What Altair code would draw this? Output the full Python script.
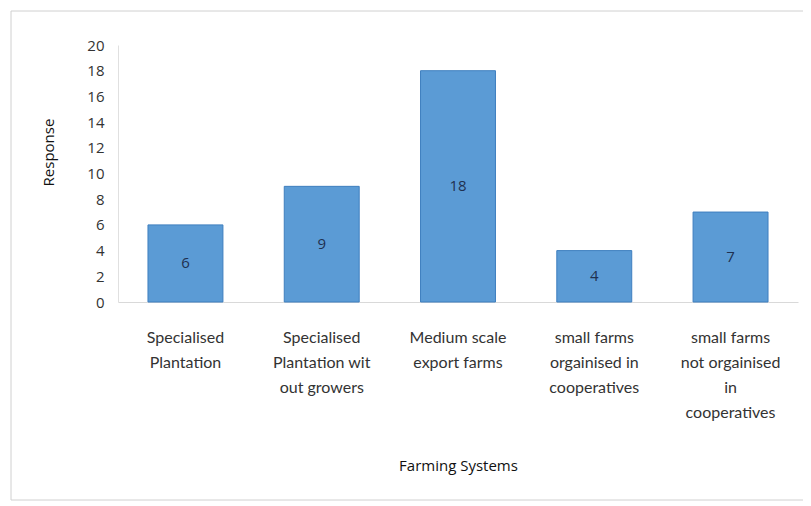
import altair as alt
import pandas as pd

categories = [
    "Specialised|Plantation",
    "Specialised|Plantation wit|out growers",
    "Medium scale|export farms",
    "small farms|orgainised in|cooperatives",
    "small farms|not orgainised|in|cooperatives",
]
responses = [6, 9, 18, 4, 7]
y_ticks = list(range(0, 21, 2))

df = pd.DataFrame({"system": categories, "response": responses})

x_enc = alt.X(
    "system:N",
    sort=categories,
    title="Farming Systems",
    scale=alt.Scale(paddingInner=0.45, paddingOuter=0.22),
    axis=alt.Axis(
        labelAngle=0,
        labelExpr="split(datum.label, '|')",
        labelFont="Lato",
        labelFontSize=16,
        labelColor="#333333",
        labelLineHeight=25,
        labelPadding=27,
        ticks=False,
        domainColor="#d9d9d9",
        titleFont="Open Sans",
        titleFontSize=15,
        titleFontWeight="normal",
        titleColor="#111111",
        titlePadding=38,
    ),
)

y_axis = alt.Axis(
    values=y_ticks,
    grid=False,
    ticks=False,
    labelOverlap=False,
    labelFlush=False,
    domainColor="#e0e0e0",
    labelFont="Open Sans",
    labelFontSize=15,
    labelColor="#333333",
    labelPadding=14,
    titleFont="Open Sans",
    titleFontSize=15,
    titleFontWeight="normal",
    titleColor="#111111",
    titlePadding=30,
    titleY=107,
)
y_scale = alt.Scale(domain=[0, 20])

bars = alt.Chart(df).mark_bar(color="#5b9bd5", stroke="#3f7fbf", strokeWidth=1).encode(
    x=x_enc,
    y=alt.Y("response:Q", title="Response", scale=y_scale, axis=y_axis),
)

labels = alt.Chart(df).mark_text(
    font="Open Sans", fontSize=15, color="#1f3050"
).encode(
    x=alt.X("system:N", sort=categories),
    y=alt.Y("mid:Q", title="Response", scale=y_scale, axis=y_axis),
    text=alt.Text("response:Q"),
).transform_calculate(mid="datum.response / 2")

frame = alt.Chart(pd.DataFrame({"f": [0]})).mark_rect(
    fill=None, stroke="#d0d0d0", strokeWidth=1
).encode(
    x=alt.value(-107), x2=alt.value(690),
    y=alt.value(-34), y2=alt.value(455),
)

chart = (
    alt.layer(frame, bars, labels)
    .properties(
        width=680,
        height=257,
        autosize=alt.AutoSizeParams(type="none"),
        padding={"left": 110, "top": 37, "right": 5, "bottom": 200},
        background="white",
    )
    .configure_view(stroke=None)
)

chart.save("out.html", embed_options={"renderer": "svg", "actions": False})
